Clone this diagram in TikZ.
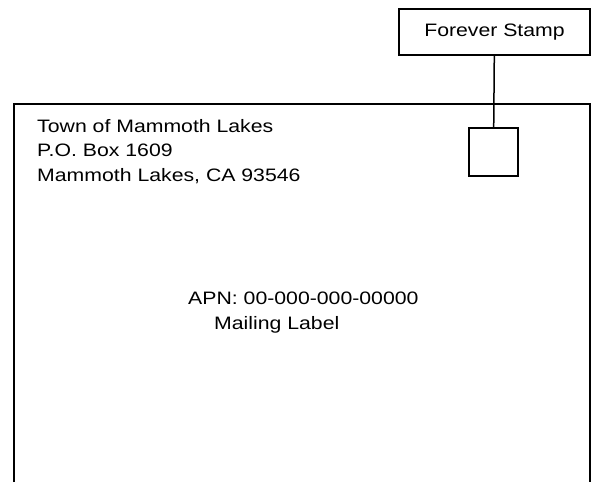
\documentclass[tikz,border=0pt]{standalone}
\usepackage{fontspec}
\setmainfont{Liberation Sans}
\usetikzlibrary{positioning}

\begin{document}
\begin{tikzpicture}[x=1pt,y=-1pt,
    txt/.style={font=\fontsize{18}{24.5}\selectfont,align=left,inner sep=0pt,xscale=1.18},
    box/.style={draw,line width=1.5pt,inner sep=0pt}]
    \useasboundingbox (0,0) rectangle (594,482);
    % envelope, open at the bottom
    \draw[line width=2pt] (14,482) -- (14,104) -- (590,104) -- (590,482);
    \node[box,minimum width=49pt,minimum height=48pt] (stamp) at (493.5,152) {};
    \node[box,minimum width=191pt,minimum height=46pt] (label) at (494.5,32) {};
    \node[txt] (labeltxt) at (label.center) {Forever Stamp};
    \draw[line width=1.5pt] (label) -- (stamp);
    \node[txt,anchor=base west] (sender) at (37,181) {Town of Mammoth Lakes\\P.O. Box 1609\\Mammoth Lakes, CA 93546};
    \node[txt,anchor=base west] (apn) at (188,329) {APN: 00-000-000-00000\\\hspace*{22pt}Mailing Label};
  \end{tikzpicture}
\end{document}
